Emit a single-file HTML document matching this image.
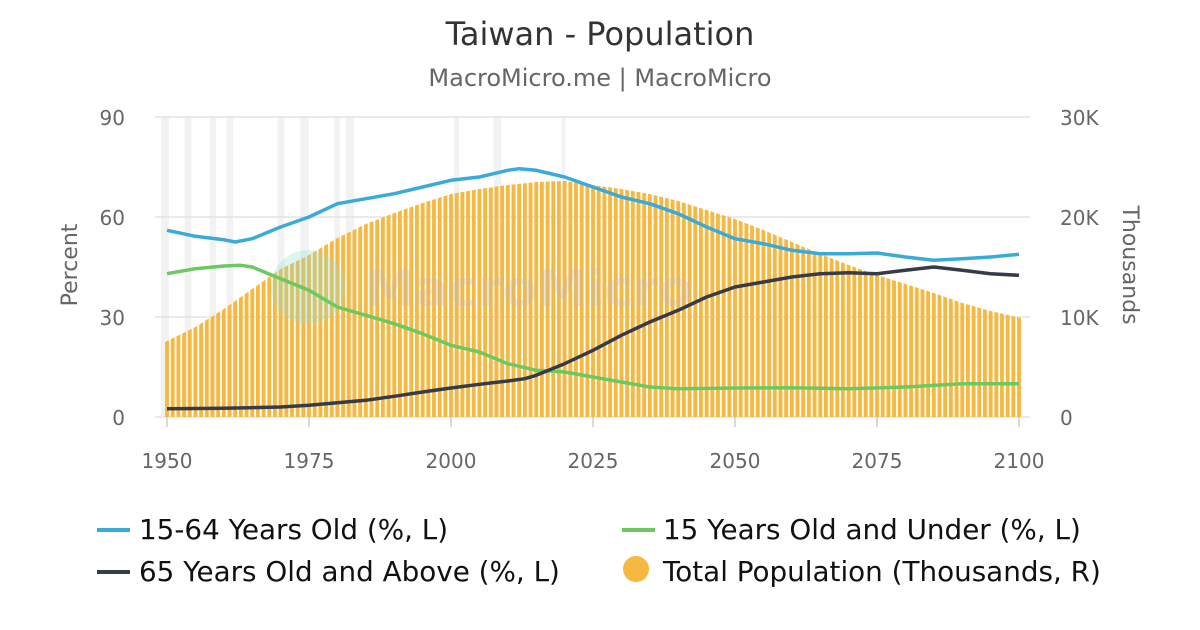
<!DOCTYPE html><html><head><meta charset="utf-8"><style>body{margin:0;background:#fff}svg{display:block;font-family:"DejaVu Sans","Liberation Sans",sans-serif}</style></head><body>
<svg width="1200" height="630" xmlns="http://www.w3.org/2000/svg">
<defs><pattern id="bp" patternUnits="userSpaceOnUse" x="165.1" y="0" width="5.68" height="630"><rect x="0" y="0" width="3.9" height="630" fill="#f5b942"/></pattern></defs>
<text x="600" y="45" text-anchor="middle" font-size="32" fill="#333">Taiwan - Population</text>
<text x="600" y="86" text-anchor="middle" font-size="24" fill="#666">MacroMicro.me | MacroMicro</text>
<g fill="#f2f2f2">
<rect x="161" y="117" width="7.8" height="300"/><rect x="184.7" y="117" width="6.7" height="300"/><rect x="209.4" y="117" width="6.7" height="300"/><rect x="226.5" y="117" width="6.7" height="300"/><rect x="277.6" y="117" width="6.7" height="300"/><rect x="300.3" y="117" width="8.4" height="300"/><rect x="334.4" y="117" width="5.5" height="300"/><rect x="345.8" y="117" width="8.4" height="300"/><rect x="453.7" y="117" width="5.5" height="300"/><rect x="493.4" y="117" width="7.8" height="300"/><rect x="561.6" y="117" width="3.8" height="300"/>
</g>
<g stroke="#e3e3e3" stroke-width="1.5"><line x1="155" x2="1030" y1="117" y2="117"/><line x1="155" x2="1030" y1="217" y2="217"/><line x1="155" x2="1030" y1="317" y2="317"/><line x1="155" x2="1030" y1="417" y2="417"/></g>
<polygon fill="url(#bp)" points="165,417 165,342 195.4,327 223.8,309 252.2,289 280.6,269 309,255 337.4,238 365.8,224 394.2,213 422.6,203 451,194 479.4,189 507.8,185 536.2,182 564.6,181 593,185 621.4,189 649.8,194 678.2,201 706.6,210 735,219 763.4,230 791.8,242 820.2,254 848.6,265 877,275 905.4,284 933.8,293 962.2,303 990.6,311 1021,318 1021,417"/>
<g opacity="0.3"><circle cx="308" cy="287" r="37" fill="#8ee0d0"/><text x="365" y="306" font-size="50" fill="#bbb" font-weight="bold">MacroMicro</text></g>
<g fill="none" stroke-width="3.5" stroke-linejoin="round">
<polyline stroke="#3aaad8" points="167,230.3 195.4,236.3 223.8,239.7 235.2,242 252.2,238.7 280.6,227 309,217 337.4,203.7 365.8,198.7 394.2,193.7 422.6,187 451,180.3 479.4,177 507.8,170.3 519.2,168.7 536.2,170.3 564.6,177 593,187 621.4,197 649.8,203.7 678.2,213.7 706.6,227 735,238.7 763.4,243.7 791.8,250.3 820.2,253.7 848.6,253.7 877,253 905.4,257 933.8,260.3 962.2,258.7 990.6,257 1019,254.3"/>
<polyline stroke="#6cc860" points="167,273.7 195.4,268.7 223.8,266 240.8,265.3 252.2,267 280.6,278.7 309,290.3 337.4,307 365.8,315.3 394.2,323.7 422.6,333.7 451,345.3 479.4,352 507.8,363.7 536.2,370.3 564.6,372 593,377 621.4,382 649.8,387 678.2,388.7 735,388 791.8,387.7 848.6,388.7 905.4,387 962.2,383.7 1019,383.7"/>
<polyline stroke="#363b4a" points="167,408.7 223.8,408.3 280.6,407 309,405.3 337.4,402.7 365.8,400.3 394.2,396.3 422.6,392 451,388 479.4,384.3 507.8,381 524.8,378.7 536.2,375.3 564.6,363.7 593,350.3 621.4,335.3 649.8,322 678.2,310.3 706.6,297 735,287 763.4,282 791.8,277 820.2,273.7 848.6,272.7 877,273.7 905.4,270.3 933.8,267 962.2,270.3 990.6,273.7 1019,275.3"/>
</g>
<g stroke="#ccc" stroke-width="1.5"><line x1="167" x2="167" y1="417" y2="427"/><line x1="309" x2="309" y1="417" y2="427"/><line x1="451" x2="451" y1="417" y2="427"/><line x1="593" x2="593" y1="417" y2="427"/><line x1="735" x2="735" y1="417" y2="427"/><line x1="877" x2="877" y1="417" y2="427"/><line x1="1019" x2="1019" y1="417" y2="427"/></g>
<g font-size="20" fill="#666">
<text x="125" y="125" text-anchor="end">90</text><text x="125" y="225" text-anchor="end">60</text><text x="125" y="325" text-anchor="end">30</text><text x="125" y="425" text-anchor="end">0</text>
<text x="1060" y="125">30K</text><text x="1060" y="225">20K</text><text x="1060" y="325">10K</text><text x="1060" y="425">0</text>
<g text-anchor="middle"><text x="167" y="468">1950</text><text x="309" y="468">1975</text><text x="451" y="468">2000</text><text x="593" y="468">2025</text><text x="735" y="468">2050</text><text x="877" y="468">2075</text><text x="1019" y="468">2100</text></g>
<text transform="translate(77,265) rotate(-90)" text-anchor="middle" font-size="22">Percent</text>
<text transform="translate(1123,265) rotate(90)" text-anchor="middle" font-size="22">Thousands</text>
</g>
<g font-size="27.8" fill="#111">
<line x1="97" x2="130" y1="530" y2="530" stroke="#3aaad8" stroke-width="4"/><text x="139" y="539">15-64 Years Old (%, L)</text>
<line x1="97" x2="130" y1="572" y2="572" stroke="#363b4a" stroke-width="4"/><text x="139" y="581">65 Years Old and Above (%, L)</text>
<line x1="622" x2="655" y1="530" y2="530" stroke="#6cc860" stroke-width="4"/><text x="663" y="539">15 Years Old and Under (%, L)</text>
<circle cx="636" cy="569" r="13" fill="#f5b942"/><text x="663" y="581">Total Population (Thousands, R)</text>
</g>
</svg></body></html>
